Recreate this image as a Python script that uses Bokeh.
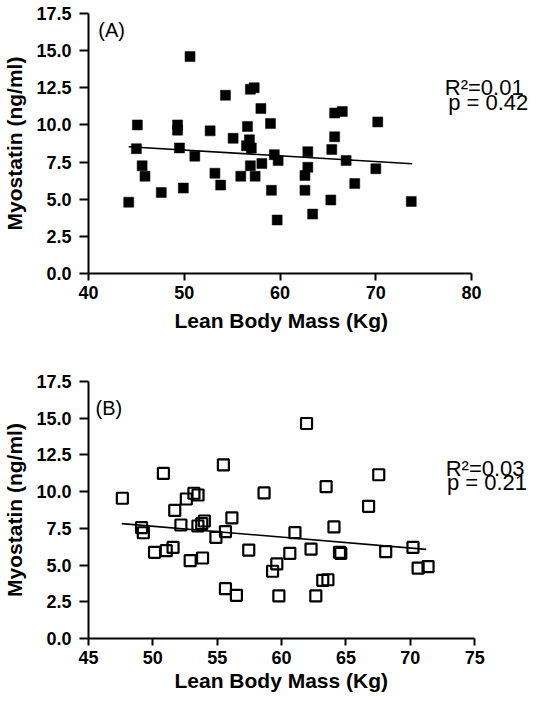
from bokeh.plotting import figure
from bokeh.layouts import column
from bokeh.models import Label, FixedTicker, PrintfTickFormatter, Range1d, Title
from bokeh.embed import file_html
from bokeh.resources import INLINE

# Panel A: Lean body mass vs myostatin (filled squares)
lbm_a = [50.6, 54.3, 56.9, 57.3, 58.0, 59.0, 45.1, 49.3, 49.3, 52.7, 56.6, 55.1,
         56.8, 56.5, 57.0, 65.7, 65.7, 66.5, 70.2, 45.0, 49.5, 51.1, 59.4, 62.9,
         65.4, 66.9, 62.9, 58.1, 56.9, 45.6, 70.0, 45.9, 47.6, 49.9, 53.2, 53.8,
         55.9, 57.4, 59.1, 59.7, 62.6, 62.6, 63.4, 65.3, 67.8, 73.7, 44.2, 59.8]
myo_a = [14.6, 12.0, 12.4, 12.5, 11.1, 10.1, 10.0, 10.0, 9.65, 9.6, 9.9, 9.1,
         9.0, 8.6, 8.45, 9.2, 10.8, 10.9, 10.2, 8.4, 8.45, 7.9, 8.0, 8.2,
         8.35, 7.6, 7.15, 7.4, 7.25, 7.25, 7.05, 6.55, 5.45, 5.75, 6.75, 5.95,
         6.55, 6.55, 5.6, 3.6, 6.6, 5.6, 4.0, 4.95, 6.05, 4.85, 4.8, 7.6]
fit_a_x = [44.2, 73.8]
fit_a_y = [8.53, 7.39]

# Panel B: open squares
lbm_b = [61.94, 55.48, 50.82, 67.55, 47.63, 58.64, 63.46, 53.19, 53.51, 52.6,
         51.7, 66.76, 56.14, 49.12, 49.26, 52.18, 53.5, 53.8, 54.0, 55.64,
         54.9, 50.13, 51.04, 51.57, 52.9, 53.86, 57.45, 55.64, 56.49, 59.3,
         59.63, 60.64, 61.04, 59.79, 62.29, 62.66, 63.2, 63.6, 64.07, 64.5,
         64.6, 68.09, 70.21, 70.61, 71.38]
myo_b = [14.64, 11.82, 11.24, 11.15, 9.55, 9.91, 10.34, 9.89, 9.77, 9.5,
         8.72, 9.0, 8.22, 7.55, 7.2, 7.73, 7.66, 7.82, 8.0, 7.28,
         6.88, 5.87, 5.98, 6.2, 5.3, 5.48, 6.02, 3.39, 2.94, 4.58,
         5.08, 5.8, 7.21, 2.9, 6.09, 2.9, 3.96, 4.0, 7.6, 5.87,
         5.8, 5.91, 6.2, 4.79, 4.9]
fit_b_x = [47.58, 71.24]
fit_b_y = [7.82, 6.07]

y_ticks = [0, 2.5, 5, 7.5, 10, 12.5, 15, 17.5]
x_ticks_a = [40, 50, 60, 70, 80]
x_ticks_b = [45, 50, 55, 60, 65, 70, 75]

FONT = "Liberation Sans"


def style(p, xticks, title_offset, title_standoff):
    p.xgrid.visible = False
    p.ygrid.visible = False
    p.outline_line_color = None
    p.xaxis.ticker = FixedTicker(ticks=xticks)
    p.yaxis.ticker = FixedTicker(ticks=y_ticks)
    p.xaxis.bounds = (xticks[0], xticks[-1])
    p.yaxis.formatter = PrintfTickFormatter(format="%.1f")
    p.xaxis.formatter = PrintfTickFormatter(format="%d")
    for ax in (p.xaxis, p.yaxis):
        ax.axis_line_width = 2
        ax.major_tick_line_width = 2
        ax.major_tick_in = 0
        ax.minor_tick_line_color = None
        ax.major_label_text_font = FONT
        ax.major_label_text_font_style = "bold"
        ax.major_label_text_font_size = "18px"
        ax.major_label_text_color = "black"
        ax.axis_label_text_font = FONT
        ax.axis_label_text_font_style = "bold"
        ax.axis_label_text_font_size = "21px"
        ax.axis_label_text_color = "black"
    p.xaxis.major_tick_out = 7
    p.yaxis.major_tick_out = 9
    p.xaxis.major_label_standoff = 5
    p.yaxis.major_label_standoff = 8
    p.yaxis.axis_label_standoff = 7
    p.yaxis.axis_label = "Myostatin (ng/ml)"
    p.add_layout(Title(text="Lean Body Mass (Kg)", align="left",
                       offset=title_offset, standoff=title_standoff,
                       text_font=FONT, text_font_style="bold",
                       text_font_size="21px", text_color="black"), "below")


def add_text(p, x, y, txt, size):
    p.add_layout(Label(x=x, y=y, text=txt, text_font=FONT, text_font_size=size,
                       text_color="black", text_baseline="alphabetic"))


pa = figure(width=530, height=338, output_backend="svg", toolbar_location=None,
            x_range=Range1d(40, 86.15), y_range=Range1d(0, 17.5),
            min_border_left=83, min_border_right=0, min_border_top=13,
            min_border_bottom=65)
style(pa, x_ticks_a, 86, 10)
pa.line(fit_a_x, fit_a_y, line_color="black", line_width=1.6)
pa.scatter(lbm_a, myo_a, marker="square", size=10, line_width=0.5, color="black")
add_text(pa, 41.03, 16.37, "(A)", "20px")
add_text(pa, 77.2, 12.54, "R\u00b2=0.01", "22px")
add_text(pa, 77.55, 11.53, "p = 0.42", "22px")

pb = figure(width=530, height=356, output_backend="svg", toolbar_location=None,
            x_range=Range1d(45, 79.34), y_range=Range1d(0, 17.5),
            min_border_left=85, min_border_right=0, min_border_top=43,
            min_border_bottom=56)
style(pb, x_ticks_b, 86, 0)
pb.line(fit_b_x, fit_b_y, line_color="black", line_width=1.6)
pb.scatter(lbm_b, myo_b, marker="square", size=11, line_color="black",
           line_width=2.2, fill_color=None)
add_text(pb, 45.55, 15.71, "(B)", "20px")
add_text(pb, 72.75, 11.59, "R\u00b2=0.03", "22px")
add_text(pb, 72.85, 10.61, "p = 0.21", "22px")

layout = column(pa, pb, spacing=0)
open("out.html", "w").write(file_html(layout, INLINE))
